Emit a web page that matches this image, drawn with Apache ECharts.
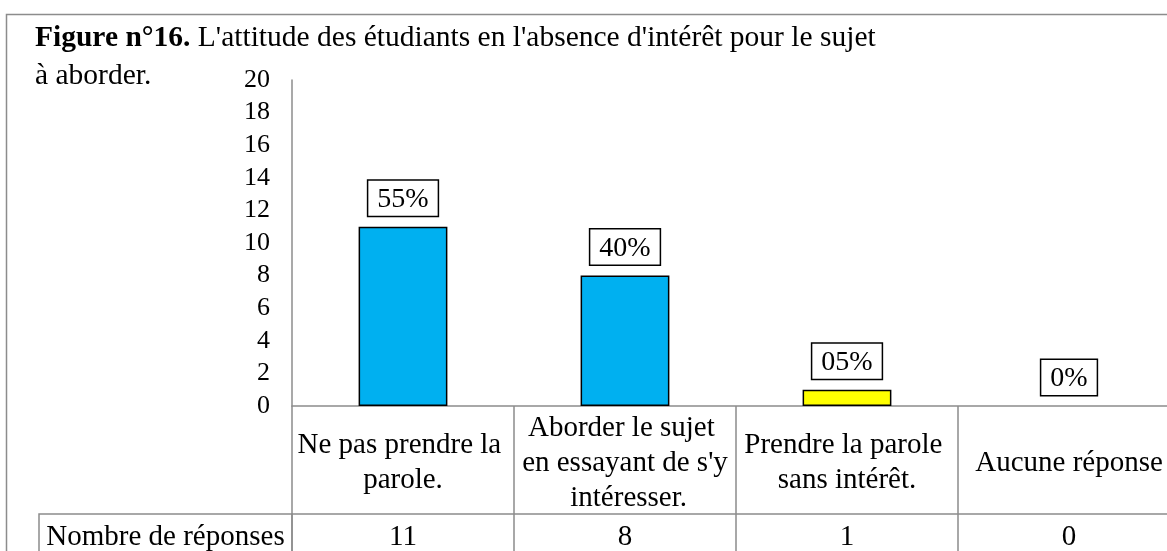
<!DOCTYPE html>
<html>
<head>
<meta charset="utf-8">
<script src="https://cdn.jsdelivr.net/npm/echarts@6/dist/echarts.min.js"></script>
<style>
  html, body { margin: 0; padding: 0; background: #fff; }
  #chart { width: 1167px; height: 551px; }
</style>
</head>
<body>
<div id="chart"></div>
<script>
// data
const categories = [
  'Ne pas prendre la parole.',
  "Aborder le sujet en essayant de s'y intéresser.",
  'Prendre la parole sans intérêt.',
  'Aucune réponse'
]
const counts = [11, 8, 1, 0]
const percentLabels = ['55%', '40%', '05%', '0%']
const barColors = ['#00B0F0', '#00B0F0', '#FFFF00', '#FFFF00']
const yTicks = { min: 0, max: 20, interval: 2 }
const tableRowLabel = 'Nombre de réponses'

const FONT = '"Liberation Serif", "Times New Roman", serif'
const LINE = '#8c8c8c'

// plot area
const gridLeft = 292
const gridTop = 80
const gridBottomY = 406
const colWidth = 222
const headerRowH = 108

const chart = echarts.init(document.getElementById('chart'))

const option = {
  animation: false,
  backgroundColor: '#fff',
  title: {
    left: 30,
    top: 14,
    text: "{b|Figure n°16.} L'attitude des étudiants en l'absence d'intérêt pour le sujet\nà aborder.",
    textStyle: {
      fontFamily: FONT,
      fontSize: 29.5,
      fontWeight: 'normal',
      color: '#000',
      lineHeight: 38,
      rich: {
        b: { fontFamily: FONT, fontSize: 29.5, fontWeight: 'bold', color: '#000', lineHeight: 38 }
      }
    }
  },
  grid: {
    left: gridLeft,
    top: gridTop,
    width: colWidth * categories.length,
    height: gridBottomY - gridTop,
    outerBoundsMode: 'none'
  },
  xAxis: [
    {
      type: 'category',
      data: categories,
      position: 'bottom',
      axisLine: { show: true, lineStyle: { color: LINE, width: 1.5 } },
      axisTick: { show: true, length: 160, lineStyle: { color: LINE, width: 1.5 } },
      axisLabel: {
        interval: 0,
        margin: 57,
        verticalAlign: 'middle',
        fontFamily: FONT,
        fontSize: 29,
        lineHeight: 35,
        color: '#000',
        width: 212,
        overflow: 'break'
      }
    },
    {
      type: 'category',
      data: counts.map(String),
      position: 'bottom',
      offset: headerRowH,
      axisLine: { show: true, lineStyle: { color: LINE, width: 1.5 } },
      axisTick: { show: false },
      axisLabel: {
        interval: 0,
        margin: 23,
        verticalAlign: 'middle',
        fontFamily: FONT,
        fontSize: 29,
        color: '#000'
      }
    }
  ],
  yAxis: {
    type: 'value',
    min: yTicks.min,
    max: yTicks.max,
    interval: yTicks.interval,
    axisLine: { show: true, lineStyle: { color: LINE, width: 1.5 } },
    axisTick: { show: false },
    splitLine: { show: false },
    axisLabel: {
      margin: 22,
      fontFamily: FONT,
      fontSize: 26,
      color: '#000'
    }
  },
  series: [
    {
      type: 'bar',
      barWidth: '40%',
      data: counts.map((v, i) => ({
        value: v,
        itemStyle: { color: barColors[i], borderWidth: v === 0 ? 0 : 1.5 }
      })),
      itemStyle: { borderColor: '#000', borderWidth: 1.5 },
      label: {
        show: true,
        position: 'top',
        distance: 11,
        formatter: (p) => percentLabels[p.dataIndex],
        fontFamily: FONT,
        fontSize: 28,
        color: '#000',
        backgroundColor: '#fff',
        borderColor: '#000',
        borderWidth: 1.5,
        padding: [5, 9, 2, 9]
      }
    }
  ],
  graphic: [
    // outer frame
    {
      type: 'rect',
      shape: { x: 6.5, y: 14.5, width: 1300, height: 700 },
      style: { fill: 'none', stroke: LINE, lineWidth: 1.5 },
      silent: true
    },
    // row label cell of the data table
    {
      type: 'rect',
      shape: { x: 39, y: gridBottomY + headerRowH, width: gridLeft - 39, height: 200 },
      style: { fill: 'none', stroke: LINE, lineWidth: 1.5 },
      silent: true
    },
    {
      type: 'text',
      x: (39 + gridLeft) / 2,
      y: gridBottomY + headerRowH + 23,
      style: {
        text: tableRowLabel,
        fontFamily: FONT,
        fontSize: 29,
        fill: '#000',
        align: 'center',
        verticalAlign: 'middle'
      },
      silent: true
    }
  ]
}

chart.setOption(option)
</script>
</body>
</html>
